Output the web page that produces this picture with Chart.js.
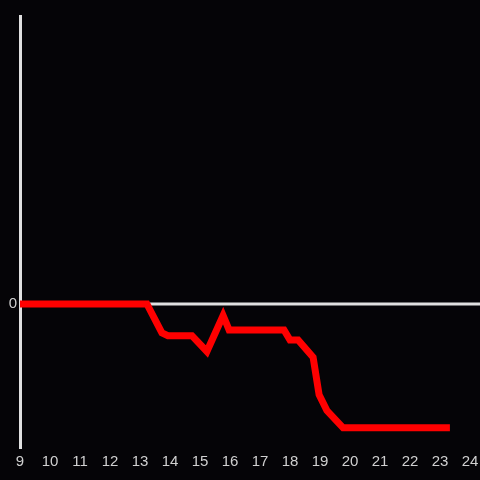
<!DOCTYPE html>
<html>
<head>
<meta charset="utf-8">
<script src="https://cdn.jsdelivr.net/npm/chart.js@4/dist/chart.umd.min.js"></script>
<style>
    html, body { margin: 0; padding: 0; background: #050407; }
    #wrap { width: 480px; height: 480px; }
</style>
</head>
<body>
<div id="wrap"><canvas id="chart" width="480" height="480"></canvas></div>
<script>
const xValues = [9, 13.23, 13.73, 13.93, 14.73, 15.23, 15.77, 15.97, 17.8, 18.0, 18.27, 18.77, 18.97, 19.23, 19.77, 23.33];
const yValues = [0, 0, -0.2, -0.22, -0.22, -0.33, -0.08, -0.18, -0.18, -0.25, -0.25, -0.37, -0.63, -0.74, -0.86, -0.86];
const yTickValues = [0];

const axisColor = "#e0e0e0";
const labelColor = "#d0d0d0";

// zero line runs to the right edge of the canvas
const zeroLine = {
    id: "zeroLine",
    beforeDatasetsDraw(chart) {
        const ctx = chart.ctx;
        const y = chart.scales.y.getPixelForValue(0);
        ctx.save();
        ctx.strokeStyle = axisColor;
        ctx.lineWidth = 3;
        ctx.beginPath();
        ctx.moveTo(chart.chartArea.left, y);
        ctx.lineTo(chart.width, y);
        ctx.stroke();
        ctx.restore();
    }
};

const canvas = document.getElementById("chart");
const chart = new Chart(canvas, {
    type: "line",
    data: {
        datasets: [{
            data: xValues.map((x, i) => ({ x: x, y: yValues[i] })),
            borderColor: "#ff0000",
            borderWidth: 7,
            pointRadius: 0,
            tension: 0,
            borderCapStyle: "butt",
            borderJoinStyle: "miter",
            fill: false
        }]
    },
    options: {
        responsive: false,
        animation: false,
        layout: { padding: { top: 16, right: 10, left: 0, bottom: 0 } },
        plugins: { legend: { display: false }, tooltip: { enabled: false } },
        scales: {
            x: {
                type: "linear",
                min: 9,
                max: 24,
                grid: { display: false, drawTicks: false },
                border: { display: false },
                ticks: {
                    stepSize: 1,
                    color: labelColor,
                    font: { family: "Liberation Sans", size: 15 },
                    padding: 5,
                    maxRotation: 0,
                    autoSkip: false
                },
                afterFit(scale) {
                    scale.height = 32;
                    scale.paddingLeft = 0;
                    scale.paddingRight = 0;
                }
            },
            y: {
                min: -1,
                max: 2,
                grid: { display: false, drawTicks: false },
                border: { display: true, color: axisColor, width: 3 },
                afterBuildTicks(scale) { scale.ticks = yTickValues.map(v => ({ value: v })); },
                ticks: {
                    color: labelColor,
                    font: { family: "Liberation Sans", size: 15 },
                    padding: 3
                },
                afterFit(scale) { scale.width = 20; }
            }
        }
    },
    plugins: [zeroLine]
});
</script>
</body>
</html>
